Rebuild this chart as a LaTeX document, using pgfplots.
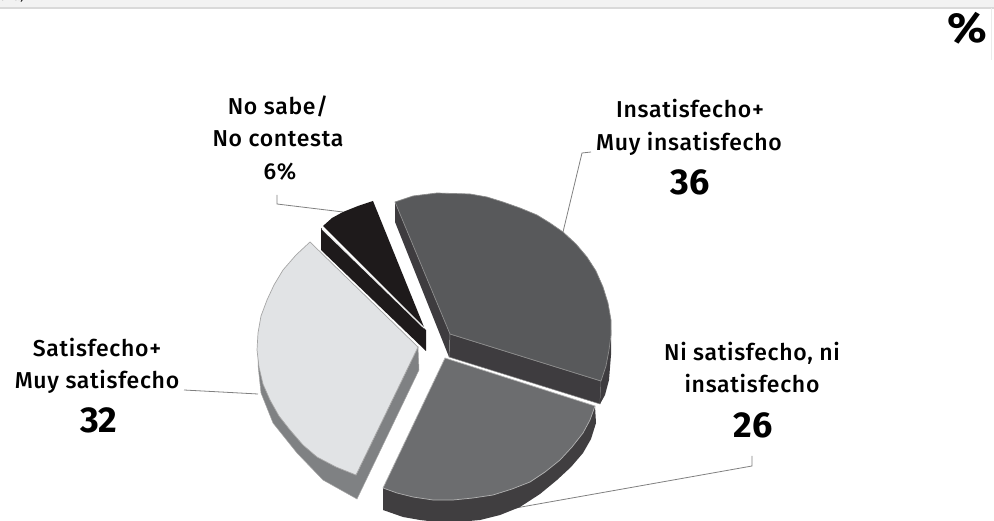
\documentclass[border=0pt]{standalone}
\usepackage{fontspec}
\setmainfont{Fira Sans}[LetterSpace=3]
\newfontfamily\labelfont{Fira Sans Medium}[LetterSpace=3]
\newfontfamily\numfont{Fira Sans}
\usepackage{pgfplots}
\pgfplotsset{compat=1.18}
\definecolor{lighttop}{HTML}{E1E3E5}
\definecolor{lightside}{HTML}{7F8183}
\definecolor{blacktop}{HTML}{1E1A1B}
\definecolor{insattop}{HTML}{58595B}
\definecolor{insatside}{HTML}{3E3C3F}
\definecolor{nitop}{HTML}{6C6D6F}
\definecolor{niside}{HTML}{403E40}
\definecolor{labeltext}{HTML}{2A2A2A}
\begin{document}
\begin{tikzpicture}
\path[clip,use as bounding box] (0,0) rectangle (994pt,521pt);
\begin{axis}[
  at={(0,0)},anchor=south west,
  scale only axis,width=994pt,height=521pt,
  xmin=0,xmax=994,ymin=0,ymax=521,y dir=reverse,
  hide axis,clip=true,
  every node/.style={text=labeltext},
]
% page strip at the top
\addplot[fill=black!5,draw=none] coordinates {(0,-2)(994,-2)(994,7)(0,7)} -- cycle;
\addplot[draw=black!15,line width=1.5pt] coordinates {(0,8)(994,8)};
\addplot[draw=black!8,line width=1pt] coordinates {(991,8)(991,60)};
% leaders
\addplot[draw=black!50,line width=.8pt] coordinates {(591,152)(582,153)(563,232)};
\addplot[draw=black!50,line width=.8pt] coordinates {(752,456)(752,466)(510,509)};
\addplot[draw=black!50,line width=.8pt] coordinates {(184,390)(258,394)};
\addplot[draw=black!50,line width=.8pt] coordinates {(277,195)(277,204)(343,212)};
% satisfecho side then top
\addplot[fill=lightside,draw=black!35,line width=.5pt] coordinates {
 (258,350)(258,365)(261,393)(273,423)(297,453)(323,480)(357,499)(419,370)(418,347)(356,475)} -- cycle;
\addplot[fill=lighttop,draw=black!35,line width=.7pt] coordinates {
 (310,242)(296,255)(283,270)(274,285)(267,300)(261,316)(258,333)(257,350)(259,367)(263,384)(270,400)(279,416)(290,430)(303,445)(317,457)(336,467)(356,475)(418,347)} -- cycle;
% no sabe
\addplot[fill=blacktop,draw=none] coordinates {(321,228)(321,250)(426,351)(426,330)} -- cycle;
\addplot[fill=blacktop,draw=none] coordinates {(323,226)(332,218)(343,212)(358,206)(373,201)(424,327)} -- cycle;
\addplot[draw=black!8,line width=1pt] coordinates {(322,229)(424,328)};
% insatisfecho side then top
\addplot[fill=insatside,draw=none] coordinates {(395,202)(395,222)(449,357)(450,334)} -- cycle;
\addplot[fill=insatside,draw=black!45,line width=.5pt] coordinates {(450,334)(449,357)(600,404)(601,381)} -- cycle;
\addplot[fill=insatside,draw=none] coordinates {(601,381)(600,404)(605,395)(609,380)(611,355)(611,330)} -- cycle;
\addplot[fill=insattop,draw=black!45,line width=.7pt] coordinates {
 (395,202)(413,196)(437,193)(470,194)(487,197)(503,202)(520,208)(537,215)(550,223)(563,232)(576,244)(587,257)(596,271)(603,287)(608,303)(611,320)(611,335)(609,350)(606,366)(601,381)(450,334)} -- cycle;
% ni satisfecho side then top
\addplot[fill=niside,draw=none] coordinates {
 (595,406)(596,423)(591,439)(583,453)(571,467)(557,480)(540,494)(520,507)(500,515)(480,520)(458,522)(437,522)(420,520)(403,517)(383,510)(383,488)} -- cycle;
\addplot[fill=nitop,draw=black!30,line width=.7pt] coordinates {
 (445,358)(595,406)(590,420)(583,433)(572,447)(560,460)(545,472)(530,482)(512,489)(493,495)(473,498)(453,500)(433,500)(413,497)(397,493)(383,488)} -- cycle;
% labels
\newcommand{\lab}[3]{\node[anchor=base,font=\labelfont\fontsize{23}{23}\selectfont,inner sep=0pt] at (axis cs:#1,#2) {#3};}
\newcommand{\val}[3]{\node[anchor=base,font=\numfont\bfseries\fontsize{36}{36}\selectfont,inner sep=0pt] at (axis cs:#1,#2) {#3};}
\lab{690}{118}{Insatisfecho+}
\lab{689}{151}{Muy insatisfecho}
\val{690}{195}{36}
\lab{752}{361}{Ni satisfecho, ni}
\lab{752}{393}{insatisfecho}
\val{753}{437}{26}
\lab{97}{357}{Satisfecho+}
\lab{97}{389}{Muy satisfecho}
\val{99}{433}{32}
\lab{278}{115}{No sabe/}
\lab{278}{147}{No contesta}
\lab{280}{180}{6\%}
\node[anchor=base,font=\numfont\bfseries\fontsize{42}{42}\selectfont,inner sep=0pt,xscale=1.1] at (axis cs:967,43) {\%};
\node[anchor=base west,font=\itshape\fontsize{13}{13}\selectfont,inner sep=0pt] at (axis cs:0,1) {ura)};
\end{axis}
\end{tikzpicture}
\end{document}
